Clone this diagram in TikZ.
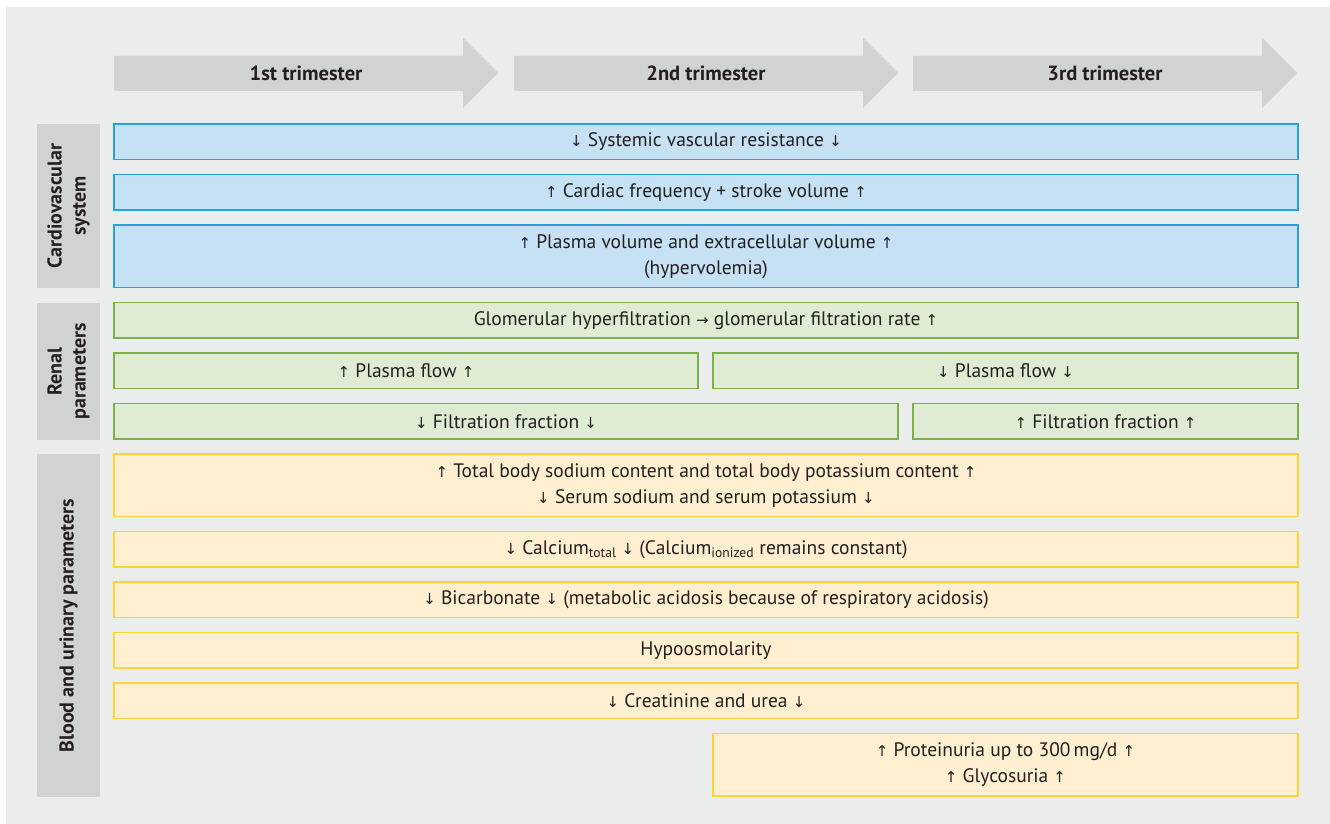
\documentclass[tikz,border=0pt]{standalone}
\usepackage{fontspec}
\setmainfont{PT Sans}
\newfontfamily\arrowfont{DejaVu Sans}
\usetikzlibrary{positioning}

\definecolor{panelgrey}{HTML}{EBECEC}
\definecolor{labelgrey}{HTML}{D1D2D4}
\definecolor{textdark}{HTML}{231F20}
\definecolor{cardiofill}{HTML}{C6E1F3}
\definecolor{cardioline}{HTML}{2A9FD8}
\definecolor{renalfill}{HTML}{E0EBD3}
\definecolor{renalline}{HTML}{7DB04A}
\definecolor{bloodfill}{HTML}{FEEFD0}
\definecolor{bloodline}{HTML}{FFD336}

\newcommand{\arrUp}{{\arrowfont\fontsize{15}{26}\selectfont ↑}}
\newcommand{\arrDown}{{\arrowfont\fontsize{15}{26}\selectfont ↓}}
\newcommand{\arrRight}{{\arrowfont\fontsize{15}{26}\selectfont →}}

\begin{document}
\begin{tikzpicture}[x=1pt,y=-1pt,node distance=15pt,
  font=\fontsize{19.5}{26}\selectfont, text=textdark]
			\tikzstyle{box} = [rectangle, line width=1.2pt, outer sep=0pt, inner sep=0pt, align=center, minimum width=1184, minimum height=35.5]
			\tikzstyle{cardio} = [box, draw=cardioline, fill=cardiofill]
			\tikzstyle{renal} = [box, draw=renalline, fill=renalfill]
			\tikzstyle{blood} = [box, draw=bloodline, fill=bloodfill]
			\tikzstyle{tall} = [minimum height=62.5]
			\tikzstyle{side} = [rectangle, fill=labelgrey, rotate=90, minimum height=63, inner sep=0pt, align=center, font=\fontsize{20}{24}\selectfont\bfseries]
			\useasboundingbox (0,0) rectangle (1330,824);
			\fill[panelgrey] (6,7) rectangle (1330,824);

			% trimester arrows
			\foreach \dx/\lbl/\nm in {0/1st/first,400/2nd/second,799/3rd/third} {
				\fill[labelgrey] (114+\dx,56) -- (463+\dx,56) -- (463+\dx,38) -- (498+\dx,73)
					-- (463+\dx,108) -- (463+\dx,91) -- (114+\dx,91) -- cycle;
				\node[font=\fontsize{20.5}{24}\selectfont\bfseries] (tri\nm) at (306+\dx,73) {\lbl\ trimester};
			}

			% side labels
			\node [side, minimum width=164] (cardiolbl) at (68.5,206) {Cardiovascular\\system};
			\node [side, minimum width=137] (renallbl) at (68.5,371.5) {Renal\\parameters};
			\node [side, minimum width=343] (bloodlbl) at (68.5,625.5) {Blood and urinary parameters};

			% cardiovascular
			\node [cardio, anchor=north west] (svr) at (114,124) {\arrDown{} Systemic vascular resistance \arrDown};
			\node [cardio, below=of svr] (freq) {\arrUp{} Cardiac frequency + stroke volume \arrUp};
			\node [cardio, tall, below=of freq] (plasmavol) {\arrUp{} Plasma volume and extracellular volume \arrUp\\(hypervolemia)};

			% renal
			\node [renal, below=of plasmavol] (gfr) {Glomerular hyperfiltration \arrRight{} glomerular filtration rate \arrUp};
			\node [renal, minimum width=584, below=of gfr.south west, anchor=north west] (flowup) {\arrUp{} Plasma flow \arrUp};
			\node [renal, minimum width=585, right=of flowup] (flowdown) {\arrDown{} Plasma flow \arrDown};
			\node [renal, minimum width=784, below=of flowup.south west, anchor=north west] (fracdown) {\arrDown{} Filtration fraction \arrDown};
			\node [renal, minimum width=385, right=of fracdown] (fracup) {\arrUp{} Filtration fraction \arrUp};

			% blood and urine
			\node [blood, tall, below=of fracdown.south west, anchor=north west] (sodium) {\arrUp{} Total body sodium content and total body potassium content \arrUp\\\arrDown{} Serum sodium and serum potassium \arrDown};
			\node [blood, below=of sodium] (calcium) {\arrDown{} Calcium\textsubscript{total} \arrDown{} (Calcium\textsubscript{ionized} remains constant)};
			\node [blood, below=of calcium] (bicarb) {\arrDown{} Bicarbonate \arrDown{} (metabolic acidosis because of respiratory acidosis)};
			\node [blood, below=of bicarb] (osmo) {Hypoosmolarity};
			\node [blood, below=of osmo] (urea) {\arrDown{} Creatinine and urea \arrDown};
			\node [blood, tall, minimum width=585, below=of urea.south east, anchor=north east] (protein) {\arrUp{} Proteinuria up to 300\,mg/d \arrUp\\\arrUp{} Glycosuria \arrUp};
		\end{tikzpicture}
\end{document}
